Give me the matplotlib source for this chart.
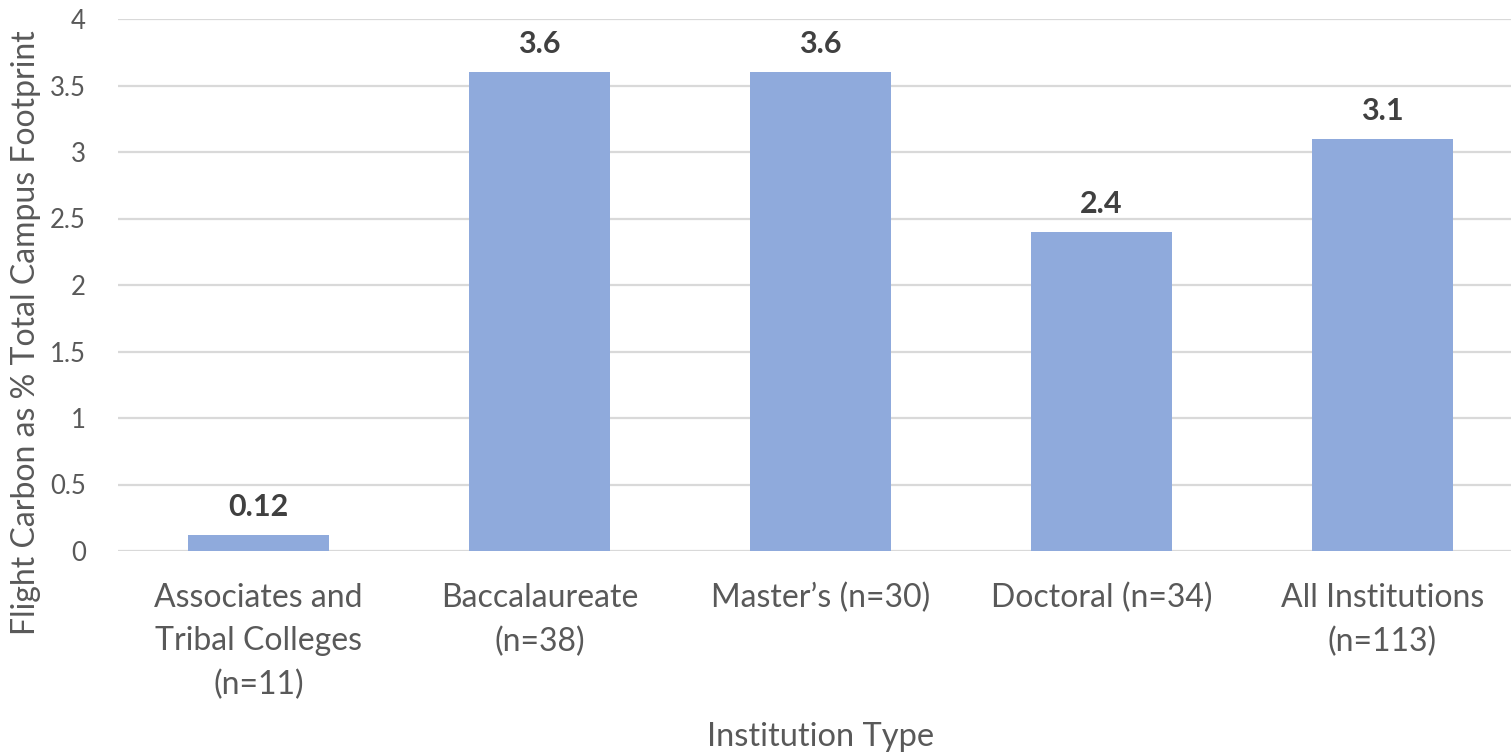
import matplotlib.pyplot as plt

categories = ["Associates and\nTribal Colleges\n(n=11)", "Baccalaureate\n(n=38)",
              "Master\u2019s (n=30)", "Doctoral (n=34)", "All Institutions\n(n=113)"]
values = [0.12, 3.6, 3.6, 2.4, 3.1]
yticks = [0, 0.5, 1, 1.5, 2, 2.5, 3, 3.5, 4]
ytick_labels = ["0", "0.5", "1", "1.5", "2", "2.5", "3", "3.5", "4"]

plt.rcParams['font.family'] = ['Lato', 'DejaVu Sans']

fig = plt.figure(figsize=(15.11, 7.53), dpi=100)
ax = fig.add_axes([118 / 1511, 1 - 551 / 753, 1405 / 1511, 532 / 753])

x = range(len(categories))
bars = ax.bar(x, values, width=0.5, color='#8FAADC', zorder=3)

# value labels above each bar
for rect, v in zip(bars, values):
    ax.annotate(f"{v:g}", (rect.get_x() + rect.get_width() / 2, v),
                xytext=(0, 10), textcoords='offset points',
                ha='center', va='bottom', fontsize=22, fontweight='bold',
                color='#404040')

ax.set_xlim(-0.5, 4.5)
ax.set_ylim(0, 4)
ax.set_yticks(yticks)
ax.set_yticklabels(ytick_labels)
ax.set_xticks(list(x))
ax.set_xticklabels(categories, linespacing=1.55)
ax.tick_params(axis='both', length=0, colors='#595959')
ax.tick_params(axis='x', pad=23, labelsize=23)
ax.tick_params(axis='y', pad=23, labelsize=18.5)

ax.yaxis.grid(True, color='#D9D9D9', linewidth=1.6, zorder=0)
for s in ax.spines.values():
    s.set_visible(False)

ax.set_xlabel("Institution Type", fontsize=23.5, color='#595959', va='center')
ax.xaxis.set_label_coords(0.5, -0.35)
ax.set_ylabel("Flight Carbon as % Total Campus Footprint", fontsize=23,
              color='#595959', va='center')
ax.yaxis.set_label_coords(-0.0655, 0.41)

fig.savefig("out.png", dpi=100, facecolor='white')
